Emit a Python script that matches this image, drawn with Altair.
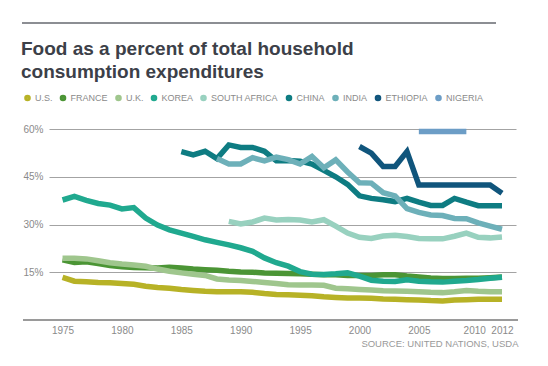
import altair as alt
import pandas as pd

# ---- data ----
countries = ["U.S.", "FRANCE", "U.K.", "KOREA", "SOUTH AFRICA", "CHINA", "INDIA", "ETHIOPIA", "NIGERIA"]
colors = ["#b7b226", "#4b9535", "#9fc68d", "#20a98f", "#98d1bf", "#0e7c82", "#6db0b9", "#10557c", "#6c9dc6"]

start_years = {
    "U.S.": 1975, "FRANCE": 1975, "U.K.": 1975, "KOREA": 1975, "SOUTH AFRICA": 1989,
    "CHINA": 1985, "INDIA": 1988, "ETHIOPIA": 2000, "NIGERIA": 2005,
}

us = [13.4, 12.2, 12.0, 11.8, 11.7, 11.5, 11.2, 10.6, 10.2, 10.0, 9.6, 9.3, 9.0, 8.9, 8.9, 8.9,
      8.7, 8.3, 8.0, 7.9, 7.8, 7.6, 7.3, 7.1, 6.9, 6.9, 6.8, 6.6, 6.5, 6.4, 6.3, 6.1, 6.0, 6.3,
      6.4, 6.5, 6.5, 6.5]
france = [18.9, 18.1, 18.3, 17.7, 17.1, 16.7, 16.5, 16.4, 16.3, 16.6, 16.3, 16.0, 15.8, 15.6, 15.3,
          15.1, 15.0, 14.8, 14.7, 14.6, 14.5, 14.4, 14.2, 14.2, 14.0, 14.0, 14.0, 14.2, 14.2, 13.8,
          13.5, 13.2, 13.0, 13.0, 13.1, 13.1, 13.3, 13.5]
uk = [19.4, 19.4, 19.2, 18.6, 18.0, 17.6, 17.3, 16.9, 16.0, 15.3, 14.8, 14.4, 14.0, 12.9, 12.6,
      12.4, 12.1, 11.8, 11.5, 11.1, 11.0, 11.0, 10.9, 10.0, 9.8, 9.6, 9.4, 9.2, 9.1, 9.0, 8.9,
      8.7, 8.6, 8.9, 9.3, 9.0, 8.9, 8.9]
korea = [37.7, 38.8, 37.6, 36.6, 36.1, 34.9, 35.3, 32.0, 29.8, 28.3, 27.3, 26.3, 25.2, 24.4, 23.6,
         22.7, 21.6, 19.5, 18.0, 16.9, 15.2, 14.4, 14.3, 14.5, 14.8, 13.8, 12.5, 12.2, 12.1, 12.6,
         12.2, 12.0, 11.9, 12.2, 12.4, 12.7, 13.1, 13.4]
south_africa = [31.0, 30.2, 30.8, 32.0, 31.4, 31.6, 31.4, 30.8, 31.5, 29.5, 27.3, 26.0, 25.6, 26.4,
                26.6, 26.2, 25.6, 25.5, 25.5, 26.3, 27.3, 26.0, 25.8, 26.1]
china = [52.9, 51.9, 53.0, 50.7, 55.0, 54.2, 54.2, 53.0, 50.0, 50.1, 49.9, 49.0, 47.0, 45.0, 42.6,
         39.0, 38.2, 37.8, 37.2, 38.2, 37.0, 36.0, 36.0, 38.2, 37.0, 35.9, 35.9, 35.9]
india = [50.7, 49.0, 49.0, 51.0, 50.0, 51.2, 50.4, 49.0, 51.4, 47.8, 50.3, 46.5, 43.1, 43.0, 40.0,
         39.0, 35.0, 33.8, 33.0, 32.8, 31.9, 31.8, 30.5, 29.5, 28.5]
ethiopia = [54.5, 52.4, 48.2, 48.2, 52.9, 42.4, 42.4, 42.4, 42.4, 42.4, 42.4, 42.4, 39.8]
nigeria = [59.2, 59.2, 59.2, 59.2, 59.2]

series = {
    "U.S.": us, "FRANCE": france, "U.K.": uk, "KOREA": korea, "SOUTH AFRICA": south_africa,
    "CHINA": china, "INDIA": india, "ETHIOPIA": ethiopia, "NIGERIA": nigeria,
}

y_ticks = [15, 30, 45, 60]
x_ticks = [1975, 1980, 1985, 1990, 1995, 2000, 2005, 2010, 2012]
title_lines = ["Food as a percent of total household", "consumption expenditures"]
source_text = "SOURCE: UNITED NATIONS, USDA"

rows = []
for order, c in enumerate(countries):
    for i, v in enumerate(series[c]):
        rows.append({"country": c, "year": start_years[c] + i, "value": v, "order": order})
df = pd.DataFrame(rows)

FONT = "Liberation Sans"
GRAY = "#8a8a8a"

lines = alt.Chart(df).mark_line(strokeWidth=5.5, strokeJoin="miter", strokeCap="butt").encode(
    x=alt.X("year:Q",
            scale=alt.Scale(domain=[1973.86, 2013.18], nice=False, zero=False),
            axis=alt.Axis(values=x_ticks, format="d", grid=False, domain=False, ticks=False,
                          labelPadding=5, labelFontSize=10, labelColor=GRAY, labelFont=FONT,
                          labelOffset={"expr": "datum.value == 2010 ? -4 : 0"},
                          title=source_text, titleFont=FONT, titleFontSize=9.5,
                          titleFontWeight="normal", titleColor="#999999",
                          titleX=469, titleY=26, titleAlign="right",
                          titleBaseline="alphabetic", titleAngle=0)),
    y=alt.Y("value:Q",
            scale=alt.Scale(domain=[0, 60], nice=False),
            axis=alt.Axis(values=y_ticks, labelExpr="datum.value + '%'", grid=True,
                          gridColor="#a3a3a3", gridWidth=1, domain=False, ticks=False,
                          labelPadding=6, labelFontSize=10, labelColor=GRAY, labelFont=FONT,
                          title=None)),
    color=alt.Color("country:N",
                    scale=alt.Scale(domain=countries, range=colors),
                    legend=alt.Legend(
                        title=None, orient="none", legendX=-26, legendY=-36,
                        direction="horizontal",
                        symbolType="circle",
                        symbolSize=9.6, symbolStrokeWidth=3.5, symbolOpacity=1,
                        labelFont=FONT, labelFontSize=9, labelColor=GRAY, labelOffset=3,
                        columnPadding=0.5, padding=0)),
    order=alt.Order("order:Q"),
    detail="country:N",
)

baseline = alt.Chart(df).mark_rule(color="#9a9a9a", strokeWidth=2).encode(
    x=alt.value(-26), x2=alt.value(469), y=alt.value(191)
)
top_rule = alt.Chart(df).mark_rule(color="#8c8e93", strokeWidth=2).encode(
    x=alt.value(-27), x2=alt.value(447), y=alt.value(-106)
)

chart = alt.layer(baseline, top_rule, lines).properties(
    width=467, height=191,
    title=alt.TitleParams(text=title_lines, anchor="start", font=FONT, fontSize=19,
                          fontWeight="bold", color="#3c4048", lineHeight=23, dx=0,
                          offset=0, dy=60),
    autosize=alt.AutoSizeParams(type="none"),
    padding={"left": 41, "top": 121, "right": 24, "bottom": 30},
).configure_view(stroke=None)

chart.save("out.html", embed_options={"renderer": "svg", "actions": False})
